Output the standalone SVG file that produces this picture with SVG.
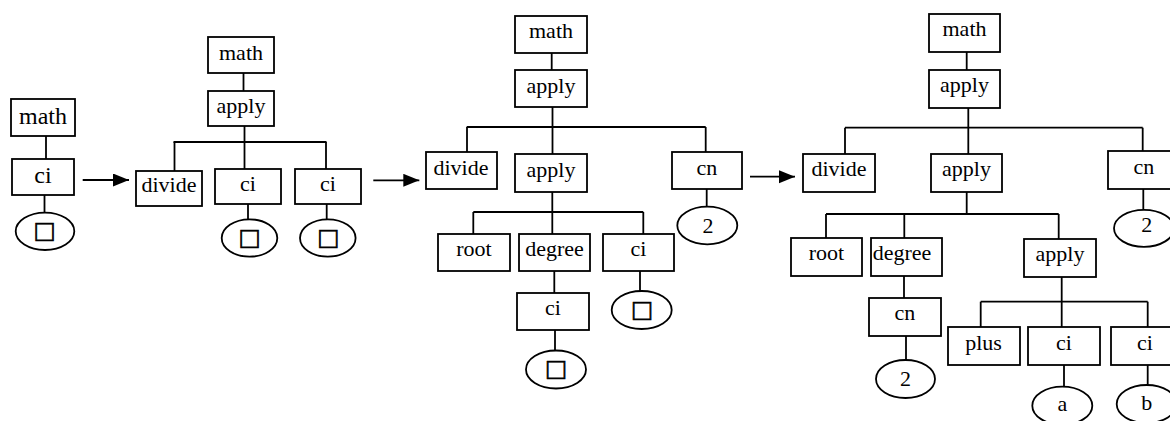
<svg xmlns="http://www.w3.org/2000/svg" width="1170" height="421" viewBox="0 0 1170 421">
<style>
rect{fill:#fff;stroke:#000;stroke-width:1.8}
ellipse{fill:#fff;stroke:#000;stroke-width:1.8}
text{font-family:"Liberation Serif","Times New Roman",serif;font-size:22px;fill:#000;text-anchor:middle}
.big{font-size:24px}
.sq{font-size:30px;stroke:#000;stroke-width:0.7}
#connectors line,#connectors path{stroke:#000;stroke-width:1.8;fill:none}
</style>
<defs>
<marker id="ah" markerUnits="userSpaceOnUse" markerWidth="17" markerHeight="14" refX="16" refY="6.5" orient="auto">
<path d="M0,0 L16,6.5 L0,13 Z" fill="#000"/>
</marker>
</defs>
<g id="connectors">
<!-- tree 1 -->
<line x1="46" y1="136" x2="46" y2="159"/>
<line x1="44.5" y1="195" x2="44.5" y2="213"/>
<!-- tree 2 -->
<line x1="243.5" y1="73" x2="243.5" y2="91"/>
<line x1="244.5" y1="126" x2="244.5" y2="169"/>
<line x1="173.5" y1="142" x2="326.5" y2="142"/>
<line x1="174.5" y1="142" x2="174.5" y2="171"/>
<line x1="326" y1="142" x2="326" y2="169"/>
<line x1="248" y1="204" x2="248" y2="219.5"/>
<line x1="326.7" y1="204" x2="326.7" y2="219.5"/>
<!-- tree 3 -->
<line x1="551.7" y1="53" x2="551.7" y2="70"/>
<line x1="552.5" y1="107" x2="552.5" y2="154"/>
<line x1="466.7" y1="127" x2="705.7" y2="127"/>
<line x1="467" y1="127" x2="467" y2="152"/>
<line x1="705.7" y1="127" x2="705.7" y2="152"/>
<line x1="552.3" y1="192" x2="552.3" y2="234"/>
<line x1="473.3" y1="212" x2="643.3" y2="212"/>
<line x1="473.3" y1="212" x2="473.3" y2="234"/>
<line x1="643.3" y1="212" x2="643.3" y2="234"/>
<line x1="554.3" y1="271" x2="554.3" y2="293"/>
<line x1="555" y1="330" x2="555" y2="351"/>
<line x1="640" y1="271" x2="640" y2="291"/>
<line x1="706.7" y1="189" x2="706.7" y2="207"/>
<!-- tree 4 -->
<line x1="966.7" y1="52" x2="966.7" y2="70"/>
<line x1="968.3" y1="108" x2="968.3" y2="154"/>
<line x1="845" y1="127.7" x2="1142.7" y2="127.7"/>
<line x1="845" y1="127.7" x2="845" y2="154"/>
<line x1="1142.7" y1="127.7" x2="1142.7" y2="151"/>
<line x1="966.7" y1="192" x2="966.7" y2="214"/>
<line x1="826" y1="214" x2="1058.7" y2="214"/>
<line x1="826" y1="214" x2="826" y2="238"/>
<line x1="904.3" y1="214" x2="904.3" y2="238"/>
<line x1="1058.7" y1="214" x2="1058.7" y2="239"/>
<line x1="904" y1="276" x2="904" y2="298"/>
<line x1="906" y1="336" x2="906" y2="360"/>
<line x1="1061.7" y1="277" x2="1061.7" y2="327"/>
<line x1="980.7" y1="301.7" x2="1147.7" y2="301.7"/>
<line x1="980.7" y1="301.7" x2="980.7" y2="327"/>
<line x1="1147.7" y1="301.7" x2="1147.7" y2="327"/>
<line x1="1064" y1="365" x2="1064" y2="387"/>
<line x1="1147.7" y1="365" x2="1147.7" y2="385"/>
<line x1="1143.3" y1="189" x2="1143.3" y2="210"/>
<!-- transformation arrows -->
<line x1="82.7" y1="180" x2="129" y2="180" marker-end="url(#ah)"/>
<line x1="373.3" y1="180.3" x2="419.3" y2="180.3" marker-end="url(#ah)"/>
<line x1="750" y1="176.7" x2="795" y2="176.7" marker-end="url(#ah)"/>
</g>

<!-- tree 1 -->
<g id="t1-math"><rect x="11" y="99" width="64" height="37"/><text class="big" x="43" y="124">math</text></g>
<g id="t1-ci"><rect x="12" y="159" width="62" height="36"/><text class="big" x="43" y="183">ci</text></g>
<g id="t1-leaf"><ellipse cx="45" cy="231.3" rx="29.3" ry="18.7"/><text class="sq" x="44.5" y="241">□</text></g>

<!-- tree 2 -->
<g id="t2-math"><rect x="208" y="37" width="66" height="36"/><text x="241" y="60">math</text></g>
<g id="t2-apply"><rect x="208" y="91" width="66" height="35"/><text x="241" y="113">apply</text></g>
<g id="t2-divide"><rect x="136" y="171" width="66" height="35"/><text x="169" y="192">divide</text></g>
<g id="t2-ci1"><rect x="215" y="169" width="66" height="35"/><text x="248" y="191">ci</text></g>
<g id="t2-ci2"><rect x="295" y="169" width="66" height="35"/><text x="328" y="191">ci</text></g>
<g id="t2-leaf1"><ellipse cx="249.5" cy="238" rx="27.8" ry="18.7"/><text class="sq" x="249.5" y="247.5">□</text></g>
<g id="t2-leaf2"><ellipse cx="327.8" cy="238" rx="27.8" ry="18.7"/><text class="sq" x="328.3" y="247.5">□</text></g>

<!-- tree 3 -->
<g id="t3-math"><rect x="515" y="16" width="72" height="37"/><text x="551" y="38">math</text></g>
<g id="t3-apply"><rect x="515" y="70" width="72" height="37"/><text x="551" y="92.5">apply</text></g>
<g id="t3-divide"><rect x="426" y="152" width="71" height="37"/><text x="461" y="175">divide</text></g>
<g id="t3-apply2"><rect x="515" y="154" width="72" height="38"/><text x="551" y="176.5">apply</text></g>
<g id="t3-cn"><rect x="672" y="152" width="70" height="37"/><text x="707" y="175">cn</text></g>
<g id="t3-cn-val"><ellipse cx="707.3" cy="225.5" rx="30" ry="18.8"/><text x="708" y="233">2</text></g>
<g id="t3-root"><rect x="438" y="234" width="72" height="37"/><text x="474" y="256">root</text></g>
<g id="t3-degree"><rect x="519" y="234" width="71" height="37"/><text x="554.5" y="256">degree</text></g>
<g id="t3-ci"><rect x="603" y="234" width="71" height="37"/><text x="638.5" y="256">ci</text></g>
<g id="t3-ci-inner"><rect x="517" y="293" width="72" height="37"/><text x="553" y="315">ci</text></g>
<g id="t3-leaf1"><ellipse cx="556" cy="369.5" rx="30" ry="19"/><text class="sq" x="556" y="379">□</text></g>
<g id="t3-leaf2"><ellipse cx="641.7" cy="310" rx="30" ry="19"/><text class="sq" x="642" y="319.5">□</text></g>

<!-- tree 4 -->
<g id="t4-math"><rect x="929" y="14" width="71" height="38"/><text x="964.5" y="36">math</text></g>
<g id="t4-apply"><rect x="929" y="70" width="71" height="38"/><text x="964.5" y="92">apply</text></g>
<g id="t4-divide"><rect x="803" y="154" width="72" height="38"/><text x="839" y="176">divide</text></g>
<g id="t4-apply2"><rect x="931" y="154" width="71" height="38"/><text x="966.5" y="176">apply</text></g>
<g id="t4-cn"><rect x="1108" y="151" width="72" height="38"/><text x="1144" y="173.5">cn</text></g>
<g id="t4-cn-val"><ellipse cx="1144" cy="228.3" rx="30" ry="18.5"/><text x="1146.7" y="232">2</text></g>
<g id="t4-root"><rect x="791" y="238" width="71" height="38"/><text x="826.5" y="260">root</text></g>
<g id="t4-degree"><rect x="871" y="238" width="71" height="38"/><text x="902" y="260">degree</text></g>
<g id="t4-apply3"><rect x="1024" y="239" width="72" height="38"/><text x="1060" y="260.7">apply</text></g>
<g id="t4-cn2"><rect x="869" y="298" width="72" height="38"/><text x="905" y="320">cn</text></g>
<g id="t4-cn2-val"><ellipse cx="905.5" cy="379" rx="29.5" ry="19"/><text x="905.5" y="385.5">2</text></g>
<g id="t4-plus"><rect x="948" y="327" width="72" height="38"/><text x="983.5" y="350">plus</text></g>
<g id="t4-ci1"><rect x="1028" y="327" width="72" height="38"/><text x="1064" y="350">ci</text></g>
<g id="t4-ci2"><rect x="1111" y="327" width="72" height="38"/><text x="1145" y="350">ci</text></g>
<g id="t4-a"><ellipse cx="1062.3" cy="405.7" rx="30" ry="19"/><text x="1062.3" y="411">a</text></g>
<g id="t4-b"><ellipse cx="1146.7" cy="404" rx="30" ry="19"/><text x="1146.7" y="409.5">b</text></g>
</svg>
